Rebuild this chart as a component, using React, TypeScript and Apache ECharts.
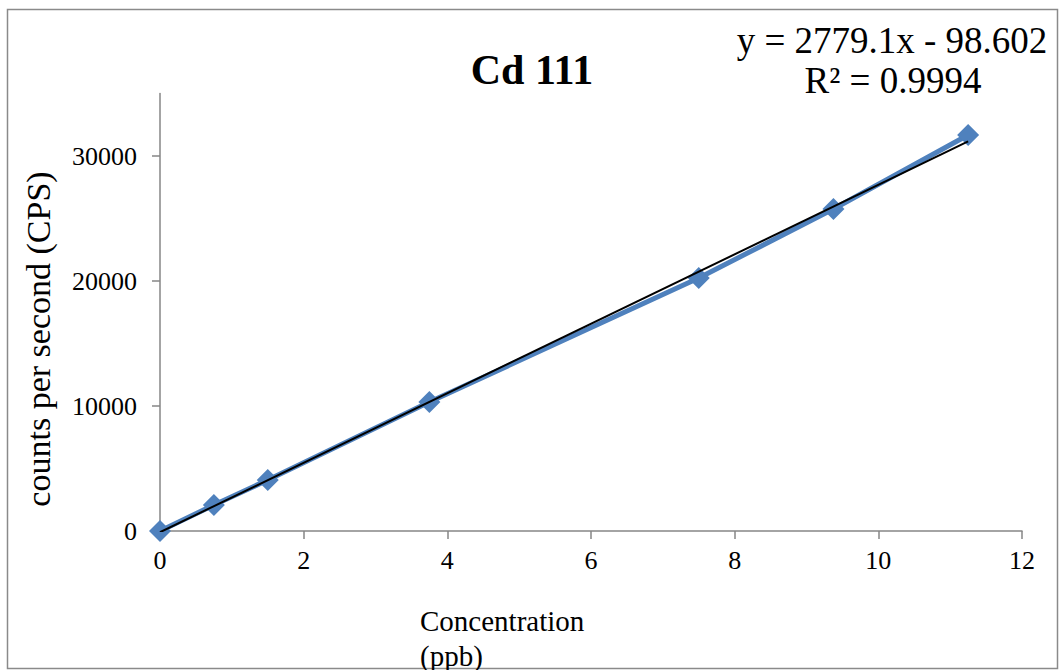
import React, { useEffect, useRef } from "react";
import * as echarts from "echarts";

// Calibration data for Cd 111
const concentration = [0, 0.75, 1.5, 3.75, 7.5, 9.375, 11.25];
const cps = [0, 2080, 4080, 10320, 20240, 25760, 31680];

// Linear fit reported on the chart
const slope = 2779.1;
const intercept = -98.602;
const rSquared = 0.9994;

const xTicks = [0, 2, 4, 6, 8, 10, 12];
const yTicks = [0, 10000, 20000, 30000];

const title = "Cd 111";
const xName = "Concentration\n(ppb)";
const yName = "counts per second (CPS)";

const SERIF = "'Liberation Serif', 'Times New Roman', serif";
const AXIS_GRAY = "#868686";

export default function App() {
  const ref = useRef<HTMLDivElement>(null);

  useEffect(() => {
    if (!ref.current) return;
    const chart = echarts.init(ref.current, null, { renderer: "svg" });

    const xMin = Math.min(...concentration);
    const xMax = Math.max(...concentration);
    const trend = [xMin, xMax].map((x) => [x, slope * x + intercept]);
    const eq = `y = ${slope}x ${intercept < 0 ? "-" : "+"} ${Math.abs(intercept)}`;
    const r2 = `R² = ${rSquared}`;

    chart.setOption({
      animation: false,
      backgroundColor: "#ffffff",
      grid: { left: 160, right: 39, top: 93.5, bottom: 139, containLabel: false },
      xAxis: {
        type: "value",
        min: 0,
        max: 12,
        interval: 2,
        axisLine: { show: true, lineStyle: { color: AXIS_GRAY, width: 1.5 } },
        axisTick: { show: true, length: 8, lineStyle: { color: AXIS_GRAY, width: 1.5 }, customValues: xTicks },
        axisLabel: {
          fontFamily: SERIF,
          fontSize: 26,
          color: "#000",
          margin: 16,
          customValues: xTicks,
          formatter: (v: number) => String(v),
        },
        splitLine: { show: false },
      },
      yAxis: {
        type: "value",
        min: 0,
        max: 35000,
        interval: 10000,
        axisLine: { show: true, lineStyle: { color: AXIS_GRAY, width: 1.5 } },
        axisTick: { show: true, length: 8, lineStyle: { color: AXIS_GRAY, width: 1.5 }, customValues: yTicks },
        axisLabel: {
          fontFamily: SERIF,
          fontSize: 26,
          color: "#000",
          margin: 23,
          customValues: yTicks,
          formatter: (v: number) => String(v),
        },
        splitLine: { show: false },
      },
      series: [
        {
          type: "line",
          data: concentration.map((x, i) => [x, cps[i]]),
          symbol: "diamond",
          symbolSize: 22,
          showSymbol: true,
          lineStyle: { color: "#4F81BD", width: 5 },
          itemStyle: { color: "#4F81BD" },
          z: 2,
        },
        {
          type: "line",
          data: trend,
          symbol: "none",
          lineStyle: { color: "#000000", width: 2 },
          z: 3,
        },
      ],
      graphic: [
        {
          type: "rect",
          shape: { x: 7.5, y: 9.5, width: 1050, height: 659 },
          style: { fill: "none", stroke: "#8a8a8a", lineWidth: 1.5 },
          silent: true,
        },
        {
          type: "text",
          x: 532,
          y: 70,
          style: {
            text: title,
            font: `bold 42px ${SERIF}`,
            fill: "#000",
            textAlign: "center",
            textVerticalAlign: "middle",
          },
        },
        {
          type: "text",
          x: 892,
          y: 40,
          style: { text: eq, font: `37px ${SERIF}`, fill: "#000", textAlign: "center", textVerticalAlign: "middle" },
        },
        {
          type: "text",
          x: 893,
          y: 80,
          style: { text: r2, font: `37px ${SERIF}`, fill: "#000", textAlign: "center", textVerticalAlign: "middle" },
        },
        {
          type: "text",
          x: 420,
          y: 603,
          style: { text: xName, font: `29px ${SERIF}`, fill: "#000", textAlign: "left", textVerticalAlign: "top", lineHeight: 35 },
        },
        {
          type: "text",
          x: 38,
          y: 339,
          rotation: Math.PI / 2,
          style: { text: yName, font: `34px ${SERIF}`, fill: "#000", textAlign: "center", textVerticalAlign: "middle" },
        },
      ],
    });

    return () => chart.dispose();
  }, []);

  return (
    <div
      ref={ref}
      style={{ position: "absolute", left: 0, top: 0, width: 1061, height: 670 }}
    />
  );
}
